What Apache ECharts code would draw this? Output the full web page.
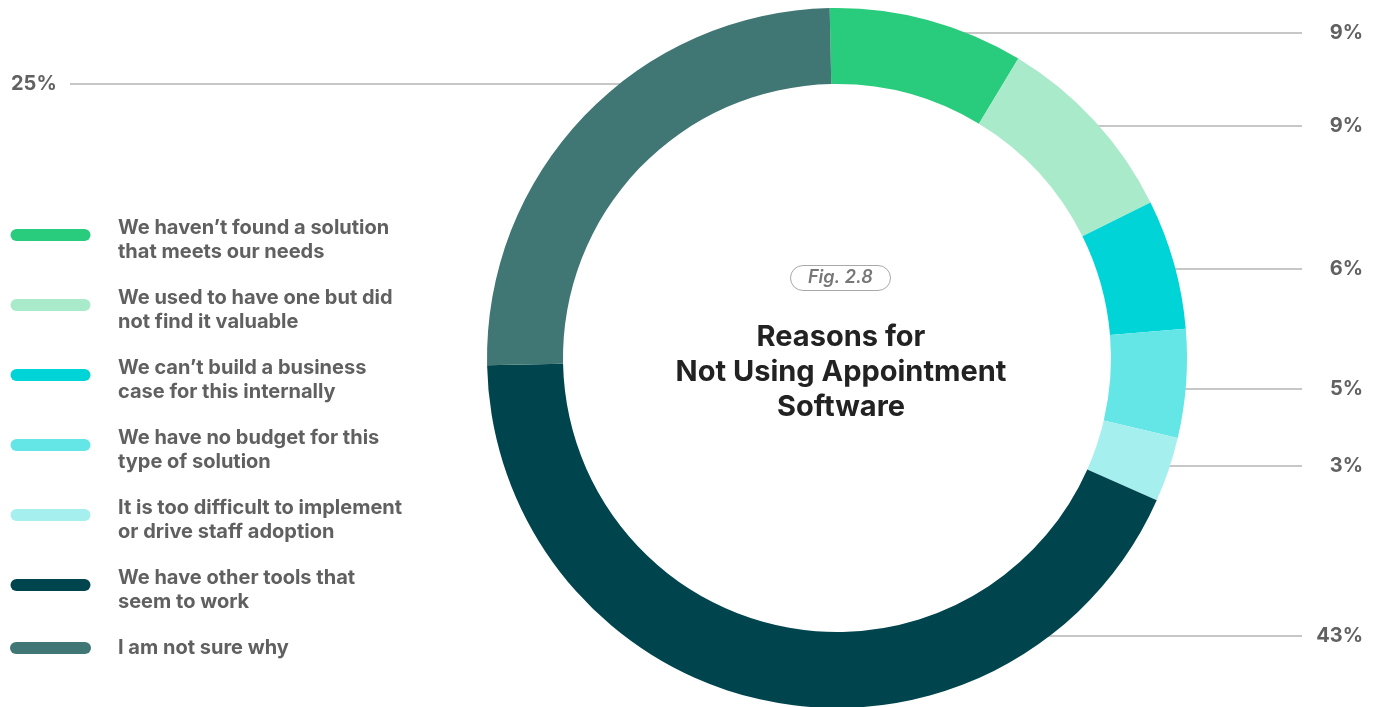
<!DOCTYPE html>
<html>
<head>
<meta charset="utf-8">
<script src="https://cdn.jsdelivr.net/npm/echarts@6/dist/echarts.min.js"></script>
<style>
  html, body { margin: 0; padding: 0; background: #ffffff; }
  #chart { width: 1379px; height: 707px; }
</style>
</head>
<body>
<div id="chart"></div>
<script>
// Survey answers, in ring order (clockwise from the top)
const categories = [
  'We haven\u2019t found a solution\nthat meets our needs',
  'We used to have one but did\nnot find it valuable',
  'We can\u2019t build a business\ncase for this internally',
  'We have no budget for this\ntype of solution',
  'It is too difficult to implement\nor drive staff adoption',
  'We have other tools that\nseem to work',
  'I am not sure why'
];
const shares = [9, 9, 6, 5, 3, 43, 25];
const sliceColors = ['#28cc7c', '#a9eacb', '#00d4d6', '#64e5e6', '#a6efef', '#00454d', '#407774'];

// Ring geometry and leader-line rows (y of each value label, and which side it sits on)
const CX = 837, CY = 358;
const R_IN = 274, R_OUT = 350, R_LEAD = 337;
const leaderRows = [33, 126, 269, 389, 466, 636, 84];
const leaderSides = ['right', 'right', 'right', 'right', 'right', 'right', 'left'];
const RIGHT_LINE_END = 1302, RIGHT_TEXT_X = 1363;
const LEFT_LINE_END = 70, LEFT_TEXT_X = 11;

const FONT = 'Inter, "Noto Sans", sans-serif';

const chart = echarts.init(document.getElementById('chart'), null, { renderer: 'canvas' });

// Capsule legend swatch; the two-line variant sits a little above the text's middle
const capsule = 'path://M6,0L74,0A6,6,0,0,1,74,12L6,12A6,6,0,0,1,6,0Z';
const capsuleRaised = 'path://M6,0L74,0A6,6,0,0,1,74,12L6,12A6,6,0,0,1,6,0ZM40,22L40,22';

chart.setOption({
  animation: false,
  color: sliceColors,
  title: [
    {
      text: 'Fig. 2.8',
      left: 790,
      top: 265,
      padding: [3, 18, 3, 18],
      borderColor: '#a8a8a8',
      borderWidth: 1,
      borderRadius: 13,
      textStyle: {
        fontFamily: FONT,
        fontSize: 18,
        fontStyle: 'italic',
        fontWeight: 600,
        color: '#777777',
        lineHeight: 20
      }
    },
    {
      text: 'Reasons for\nNot Using Appointment\nSoftware',
      left: 841,
      top: 320,
      textAlign: 'center',
      padding: 0,
      textStyle: {
        fontFamily: FONT,
        fontSize: 29,
        fontWeight: 'bold',
        color: '#222222',
        lineHeight: 35
      }
    }
  ],
  legend: {
    orient: 'vertical',
    left: 10,
    top: 212,
    padding: 0,
    itemWidth: 81,
    itemHeight: 22,
    itemGap: 14,
    selectedMode: false,
    data: categories.map(function (name) {
      return { name: name, icon: name.indexOf('\n') >= 0 ? capsuleRaised : capsule };
    }),
    textStyle: {
      fontFamily: FONT,
      fontSize: 20,
      fontWeight: 'bold',
      color: '#606060',
      lineHeight: 24,
      padding: [8, 0, 0, 22]
    }
  },
  series: [
    {
      type: 'pie',
      center: [CX, CY],
      radius: [R_IN, R_OUT],
      startAngle: 91.2,
      clockwise: true,
      avoidLabelOverlap: false,
      silent: true,
      itemStyle: { borderWidth: 0 },
      label: {
        show: true,
        position: 'outside',
        formatter: '{c}%',
        fontFamily: FONT,
        fontSize: 20,
        fontWeight: 'bold',
        color: '#616161'
      },
      labelLine: {
        show: true,
        smooth: false,
        lineStyle: { color: '#b4b4b4', width: 1.5 }
      },
      labelLayout: function (params) {
        const i = params.dataIndex;
        const y = leaderRows[i];
        const dy = y - CY;
        const dx = Math.sqrt(Math.max(0, R_LEAD * R_LEAD - dy * dy));
        if (leaderSides[i] === 'left') {
          const sx = CX - dx;
          return {
            x: LEFT_TEXT_X,
            y: y,
            align: 'left',
            verticalAlign: 'middle',
            labelLinePoints: [[sx, y], [LEFT_LINE_END, y], [LEFT_LINE_END, y]]
          };
        }
        const sx = CX + dx;
        return {
          x: RIGHT_TEXT_X,
          y: y,
          align: 'right',
          verticalAlign: 'middle',
          labelLinePoints: [[sx, y], [RIGHT_LINE_END, y], [RIGHT_LINE_END, y]]
        };
      },
      data: categories.map(function (name, i) {
        return { name: name, value: shares[i] };
      })
    }
  ]
});
</script>
</body>
</html>
